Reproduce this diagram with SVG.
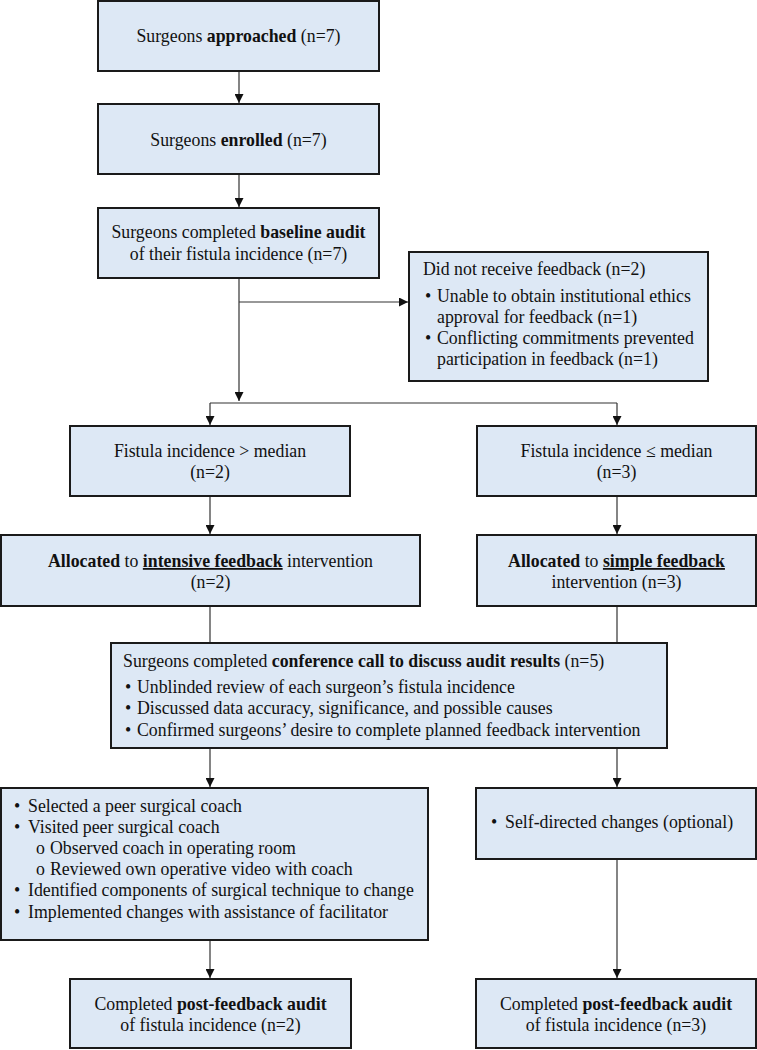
<svg xmlns="http://www.w3.org/2000/svg" width="757" height="1050" viewBox="0 0 757 1050">
<style>
.box{fill:#dde8f5;stroke:#1a1a1a;stroke-width:2}
text{font-family:"Liberation Serif","Times New Roman",serif;font-size:17.8px;fill:#111}
.c{text-anchor:middle}
.b{font-weight:bold}
.u{text-decoration:underline}
.ln{fill:none;stroke:#333;stroke-width:1.2}
</style>
<defs>
<marker id="ah" viewBox="0 0 10 10" refX="10" refY="5" markerWidth="9" markerHeight="9" markerUnits="userSpaceOnUse" orient="auto">
<path d="M0,0 L10,5 L0,10 Z" fill="#111"/>
</marker>
</defs>
<rect width="757" height="1050" fill="#fff"/>
<g id="connectors">
<line class="ln" x1="239" y1="71" x2="239" y2="103" marker-end="url(#ah)"/>
<line class="ln" x1="239" y1="174" x2="239" y2="207" marker-end="url(#ah)"/>
<line class="ln" x1="239" y1="278" x2="239" y2="401" marker-end="url(#ah)"/>
<line class="ln" x1="239" y1="302" x2="408" y2="302" marker-end="url(#ah)"/>
<line class="ln" x1="210" y1="403" x2="617" y2="403"/>
<line class="ln" x1="210" y1="403" x2="210" y2="425" marker-end="url(#ah)"/>
<line class="ln" x1="617" y1="403" x2="617" y2="425" marker-end="url(#ah)"/>
<line class="ln" x1="210" y1="497" x2="210" y2="534" marker-end="url(#ah)"/>
<line class="ln" x1="617" y1="497" x2="617" y2="534" marker-end="url(#ah)"/>
<line class="ln" x1="210" y1="607" x2="210" y2="642"/>
<line class="ln" x1="617" y1="607" x2="617" y2="642"/>
<line class="ln" x1="210" y1="749" x2="210" y2="787" marker-end="url(#ah)"/>
<line class="ln" x1="617" y1="749" x2="617" y2="787" marker-end="url(#ah)"/>
<line class="ln" x1="210" y1="941" x2="210" y2="978" marker-end="url(#ah)"/>
<line class="ln" x1="617" y1="860" x2="617" y2="978" marker-end="url(#ah)"/>
</g>
<g id="approached">
<rect class="box" x="98" y="1" width="281" height="70"/>
<text class="c" x="238.5" y="42">Surgeons <tspan class="b">approached</tspan> (n=7)</text>
</g>
<g id="enrolled">
<rect class="box" x="98" y="104" width="281" height="70"/>
<text class="c" x="238.5" y="146">Surgeons <tspan class="b">enrolled</tspan> (n=7)</text>
</g>
<g id="baseline">
<rect class="box" x="98" y="208" width="281" height="70"/>
<text class="c" x="238.5" y="238">Surgeons completed <tspan class="b">baseline audit</tspan></text>
<text class="c" x="238.5" y="260">of their fistula incidence (n=7)</text>
</g>
<g id="nofeedback">
<rect class="box" x="409" y="252" width="299" height="129"/>
<text x="423" y="275">Did not receive feedback (n=2)</text>
<text x="425" y="302">•</text>
<text x="437" y="302">Unable to obtain institutional ethics</text>
<text x="437" y="323">approval for feedback (n=1)</text>
<text x="425" y="344">•</text>
<text x="437" y="344">Conflicting commitments prevented</text>
<text x="437" y="365">participation in feedback (n=1)</text>
</g>
<g id="above">
<rect class="box" x="70" y="426" width="280" height="70"/>
<text class="c" x="210" y="457">Fistula incidence &gt; median</text>
<text class="c" x="210" y="478">(n=2)</text>
</g>
<g id="below">
<rect class="box" x="477" y="426" width="279" height="70"/>
<text class="c" x="616.5" y="457">Fistula incidence ≤ median</text>
<text class="c" x="616.5" y="478">(n=3)</text>
</g>
<g id="intensive">
<rect class="box" x="1" y="535" width="419" height="71"/>
<text class="c" x="210.5" y="567"><tspan class="b">Allocated</tspan> to <tspan class="b u">intensive feedback</tspan> intervention</text>
<text class="c" x="210.5" y="588">(n=2)</text>
</g>
<g id="simple">
<rect class="box" x="477" y="535" width="279" height="71"/>
<text class="c" x="616.5" y="567"><tspan class="b">Allocated</tspan> to <tspan class="b u">simple feedback</tspan></text>
<text class="c" x="616.5" y="588">intervention (n=3)</text>
</g>
<g id="conference">
<rect class="box" x="111" y="643" width="556" height="105"/>
<text x="123" y="667">Surgeons completed <tspan class="b">conference call to discuss audit results</tspan> (n=5)</text>
<text x="125" y="693">•</text>
<text x="137" y="693">Unblinded review of each surgeon’s fistula incidence</text>
<text x="125" y="714">•</text>
<text x="137" y="714">Discussed data accuracy, significance, and possible causes</text>
<text x="125" y="736">•</text>
<text x="137" y="736">Confirmed surgeons’ desire to complete planned feedback intervention</text>
</g>
<g id="intensive-steps">
<rect class="box" x="1" y="788" width="427" height="152"/>
<text x="14" y="812">•</text>
<text x="28" y="812">Selected a peer surgical coach</text>
<text x="14" y="833">•</text>
<text x="28" y="833">Visited peer surgical coach</text>
<text x="36" y="854">o</text>
<text x="50" y="854">Observed coach in operating room</text>
<text x="36" y="875">o</text>
<text x="50" y="875">Reviewed own operative video with coach</text>
<text x="14" y="896">•</text>
<text x="28" y="896">Identified components of surgical technique to change</text>
<text x="14" y="918">•</text>
<text x="28" y="918">Implemented changes with assistance of facilitator</text>
</g>
<g id="simple-steps">
<rect class="box" x="476" y="788" width="280" height="71"/>
<text x="491" y="828">•</text>
<text x="505" y="828">Self-directed changes (optional)</text>
</g>
<g id="post-intensive">
<rect class="box" x="70" y="979" width="281" height="69"/>
<text class="c" x="210.5" y="1010">Completed <tspan class="b">post-feedback audit</tspan></text>
<text class="c" x="210.5" y="1031">of fistula incidence (n=2)</text>
</g>
<g id="post-simple">
<rect class="box" x="476" y="979" width="280" height="69"/>
<text class="c" x="616" y="1010">Completed <tspan class="b">post-feedback audit</tspan></text>
<text class="c" x="616" y="1031">of fistula incidence (n=3)</text>
</g>
</svg>
